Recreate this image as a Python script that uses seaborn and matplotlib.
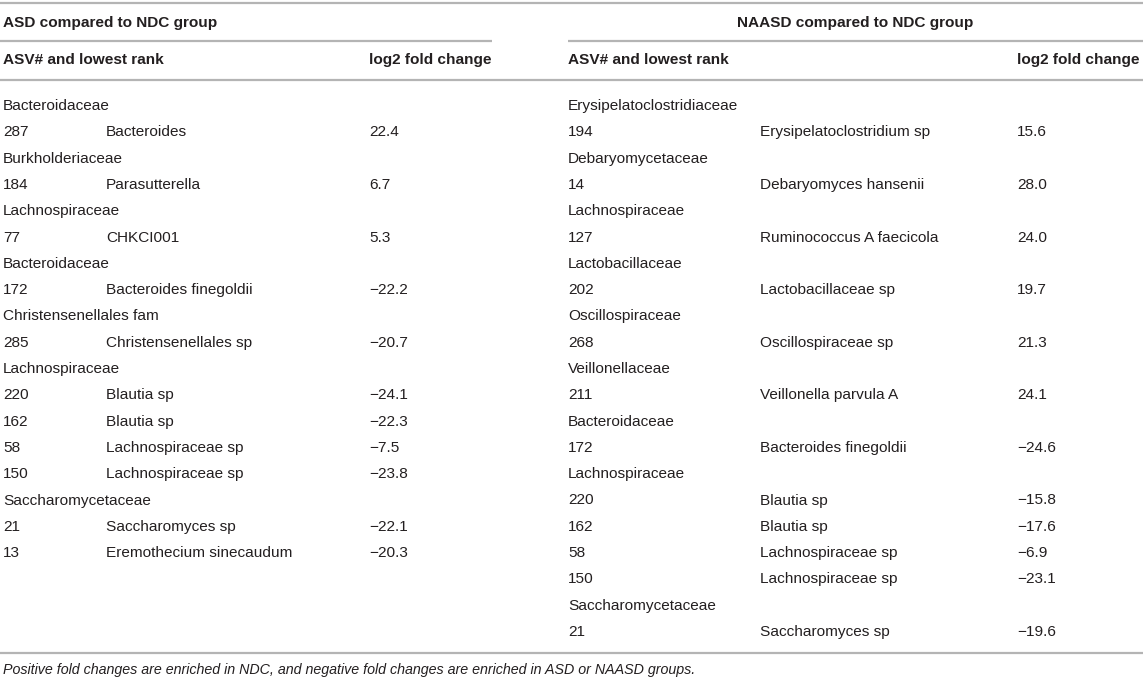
import matplotlib
matplotlib.use("Agg")
import matplotlib.pyplot as plt
import seaborn as sns

# ASD compared to NDC group
asd_family = ["Bacteroidaceae", "Burkholderiaceae", "Lachnospiraceae", "Bacteroidaceae",
              "Christensenellales fam", "Lachnospiraceae", "Lachnospiraceae",
              "Lachnospiraceae", "Lachnospiraceae", "Saccharomycetaceae", "Saccharomycetaceae"]
asd_asv = [287, 184, 77, 172, 285, 220, 162, 58, 150, 21, 13]
asd_taxon = ["Bacteroides", "Parasutterella", "CHKCI001", "Bacteroides finegoldii",
             "Christensenellales sp", "Blautia sp", "Blautia sp", "Lachnospiraceae sp",
             "Lachnospiraceae sp", "Saccharomyces sp", "Eremothecium sinecaudum"]
asd_lfc = [22.4, 6.7, 5.3, -22.2, -20.7, -24.1, -22.3, -7.5, -23.8, -22.1, -20.3]

# NAASD compared to NDC group
naasd_family = ["Erysipelatoclostridiaceae", "Debaryomycetaceae", "Lachnospiraceae",
                "Lactobacillaceae", "Oscillospiraceae", "Veillonellaceae", "Bacteroidaceae",
                "Lachnospiraceae", "Lachnospiraceae", "Lachnospiraceae", "Lachnospiraceae",
                "Saccharomycetaceae"]
naasd_asv = [194, 14, 127, 202, 268, 211, 172, 220, 162, 58, 150, 21]
naasd_taxon = ["Erysipelatoclostridium sp", "Debaryomyces hansenii", "Ruminococcus A faecicola",
               "Lactobacillaceae sp", "Oscillospiraceae sp", "Veillonella parvula A",
               "Bacteroides finegoldii", "Blautia sp", "Blautia sp", "Lachnospiraceae sp",
               "Lachnospiraceae sp", "Saccharomyces sp"]
naasd_lfc = [15.6, 28.0, 24.0, 19.7, 21.3, 24.1, -24.6, -15.8, -17.6, -6.9, -23.1, -19.6]

titles = ["ASD compared to NDC group", "NAASD compared to NDC group"]
headers = ["ASV# and lowest rank", "log2 fold change"]
footnote = ("Positive fold changes are enriched in NDC, and negative fold changes "
            "are enriched in ASD or NAASD groups.")

sns.set_theme(style="white")
plt.rcParams['font.family'] = ['Liberation Sans', 'DejaVu Sans']

TXT = "#231f20"
LINE = "#b4b4b4"
FS = 11.1
ROW0, STEP = 106, 26.3

fig = plt.figure(figsize=(11.43, 6.80), dpi=100)
ax = fig.add_axes([0, 0, 1, 1])
ax.set_xlim(0, 1143)
ax.set_ylim(680, 0)
ax.axis("off")


def draw_block(family, asv, taxon, lfc, x_asv, x_name, x_val):
    row = 0
    prev = None
    for fam, a, t, v in zip(family, asv, taxon, lfc):
        if fam != prev:
            ax.text(x_asv, ROW0 + row * STEP, fam, fontsize=FS, color=TXT, va="center")
            row += 1
            prev = fam
        y = ROW0 + row * STEP
        ax.text(x_asv, y, str(a), fontsize=FS, color=TXT, va="center")
        ax.text(x_name, y, t, fontsize=FS, color=TXT, va="center")
        ax.text(x_val, y, f"{v:.1f}".replace("-", "\u2212"), fontsize=FS, color=TXT, va="center")
        row += 1


# rules
ax.hlines(3, 0, 1143, color=LINE, lw=1.6)
ax.hlines(41, 0, 492, color=LINE, lw=1.6)
ax.hlines(41, 568, 1143, color=LINE, lw=1.6)
ax.hlines(80, 0, 1143, color=LINE, lw=1.6)
ax.hlines(653, 0, 1143, color=LINE, lw=1.6)

# titles and headers
ax.text(3, 23, titles[0], fontsize=FS, fontweight="bold", color=TXT, va="center")
ax.text(855, 23, titles[1], fontsize=FS, fontweight="bold", color=TXT, va="center", ha="center")
ax.text(3, 60, headers[0], fontsize=FS, fontweight="bold", color=TXT, va="center")
ax.text(369, 60, headers[1], fontsize=FS, fontweight="bold", color=TXT, va="center")
ax.text(568, 60, headers[0], fontsize=FS, fontweight="bold", color=TXT, va="center")
ax.text(1017, 60, headers[1], fontsize=FS, fontweight="bold", color=TXT, va="center")

draw_block(asd_family, asd_asv, asd_taxon, asd_lfc, 3, 106, 369)
draw_block(naasd_family, naasd_asv, naasd_taxon, naasd_lfc, 568, 760, 1017)

ax.text(3, 670, footnote, fontsize=10.3, style="italic", color=TXT, va="center")

fig.savefig("out.png", dpi=100)
